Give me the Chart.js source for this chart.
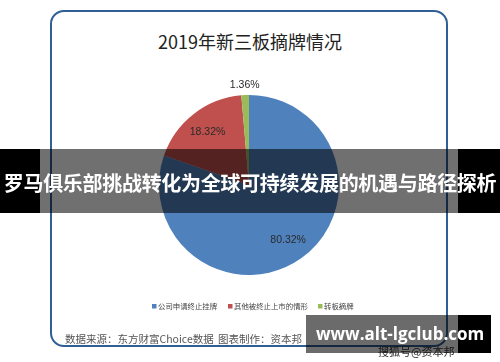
<!DOCTYPE html>
<html lang="zh-CN">
<head>
<meta charset="UTF-8" />
<title>2019年新三板摘牌情况</title>
<script src="https://cdn.jsdelivr.net/npm/chart.js"></script>
<style>
  body { margin: 0; background: #fff; font-family: "Noto Sans CJK SC", "Noto Sans", sans-serif; }
  .pagina { position: relative; width: 500px; height: 362px; overflow: hidden; background: #fff; }
  .moldura { position: absolute; left: 50px; top: 10px; width: 394px; height: 333px; border: 2px solid #2f5f95; border-radius: 14px; }
  .titulo { position: absolute; left: 0; width: 500px; top: 28px; text-align: center; font-size: 18px; color: #222; }
  .rodape { position: absolute; top: 331px; font-size: 10.5px; color: #555; }
  canvas { position: absolute; left: 0; top: 0; }
  .faixa { position: absolute; left: 0; top: 149px; width: 500px; height: 64px;
    background: linear-gradient(to right, #000 0, #000 40px, rgba(0,0,0,0.56) 40px, rgba(0,0,0,0.56) 458px, #000 458px); }
  .faixa p { margin: 0; position: absolute; left: 0; width: 500px; top: 20px; text-align: center; color: #fff;
    font-weight: bold; font-size: 20px; line-height: 28px; white-space: nowrap; letter-spacing: -0.3px; }
  .sohu { position: absolute; left: 378px; top: 343px; font-size: 11px; color: #333; }
  .marca { position: absolute; left: 306px; top: 315px; width: 185px; height: 38px;
    background: linear-gradient(to right, rgba(0,0,0,0.58) 0, rgba(0,0,0,0.58) 152px, #000 152px); }
  .marca p { margin: 0; position: absolute; left: 10px; top: 7px; color: #fff; font-weight: bold;
    font-family: "Open Sans", "DejaVu Sans", sans-serif; font-size: 17px; line-height: 24px; white-space: nowrap; }
</style>
</head>
<body>
<div class="pagina">
  <div class="moldura"></div>
  <div class="titulo">2019年新三板摘牌情况</div>
  <canvas id="grafico_pizza" width="500" height="362"></canvas>
  <div class="rodape" style="left:65px">数据来源：东方财富Choice数据</div>
  <div class="rodape" style="left:218px">图表制作：资本邦</div>
  <div class="faixa"><p>罗马俱乐部挑战转化为全球可持续发展的机遇与路径探析</p></div>
  <div class="sohu">搜狐号@资本邦</div>
  <div class="marca"><p>www.alt-lgclub.com</p></div>
</div>
<script>
  // dados do gráfico
  var categorias = ["公司申请终止挂牌", "其他被终止上市的情形", "转板摘牌"];
  var percentuais = [80.32, 18.32, 1.36];
  var rotulos = ["80.32%", "18.32%", "1.36%"];
  var cores = ["#4f81bd", "#c0504d", "#9bbb59"];

  // rótulos e legenda desenhados depois das fatias
  const plugin_rotulos = {
    id: "rotulos",
    afterDatasetsDraw(chart) {
      const ctx = chart.ctx;
      const arcos = chart.getDatasetMeta(0).data;
      ctx.save();
      ctx.font = "10.5px 'Liberation Sans', 'DejaVu Sans', sans-serif";
      ctx.fillStyle = "#2a2a2a";
      ctx.textAlign = "center";
      ctx.textBaseline = "middle";
      arcos.forEach((arco, i) => {
        const p = arco.getProps(["x", "y", "startAngle", "endAngle", "outerRadius"], true);
        const meio = (p.startAngle + p.endAngle) / 2;
        const fator = percentuais[i] < 5 ? 1.11 : 0.75;
        ctx.fillText(rotulos[i], p.x + Math.cos(meio) * p.outerRadius * fator, p.y + Math.sin(meio) * p.outerRadius * fator);
      });

      // legenda
      ctx.font = "7.4px 'Noto Sans CJK SC', sans-serif";
      ctx.textAlign = "left";
      var posicoes = [152, 228, 318];
      categorias.forEach((nome, i) => {
        ctx.fillStyle = cores[i];
        ctx.fillRect(posicoes[i], 304, 4.5, 4.5);
        ctx.fillStyle = "#444";
        ctx.fillText(nome, posicoes[i] + 6, 306.5);
      });
      ctx.restore();
    }
  };

  new Chart(document.getElementById("grafico_pizza"), {
    type: "pie",
    data: {
      labels: categorias,
      datasets: [
        {
          data: percentuais,
          backgroundColor: cores,
          borderWidth: 0,
        },
      ],
    },
    options: {
      responsive: false,
      animation: false,
      layout: { padding: { top: 95, bottom: 87, left: 159, right: 161 } },
      plugins: {
        legend: { display: false },
        tooltip: { enabled: false },
      },
    },
    plugins: [plugin_rotulos],
  });
</script>
</body>
</html>
